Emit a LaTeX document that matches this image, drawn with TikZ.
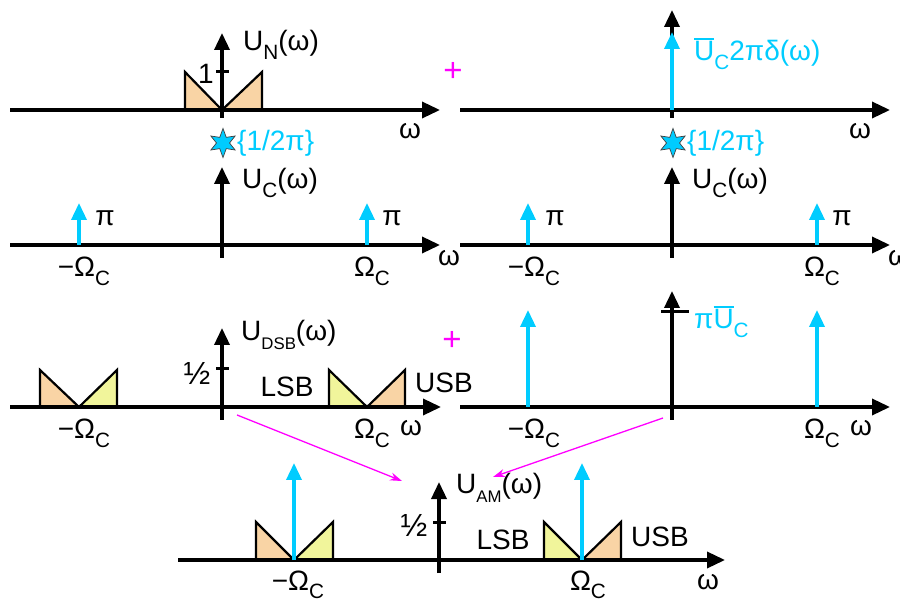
\documentclass[tikz,border=0pt]{standalone}
\usepackage{fontspec}
\usepackage{graphicx}
\setmainfont{Liberation Sans}
\usetikzlibrary{arrows.meta,shapes.geometric}
\definecolor{cyanc}{RGB}{0,204,255}
\definecolor{magc}{RGB}{255,0,255}
\definecolor{orfill}{RGB}{249,212,165}
\definecolor{yefill}{RGB}{241,245,155}
\newcommand\lsub[1]{\raisebox{-0.3em}{\scalebox{0.74}{#1}}}
\newcommand\ssub[1]{\raisebox{-0.3em}{\scalebox{0.6}{#1}}}
\newcommand\ubar{\vbox{\hrule height 2pt\kern 2pt\hbox{U}}}
\begin{document}
\begin{tikzpicture}[x=1pt,y=-1pt,
  axis/.style={line width=3.5pt,-{Triangle[length=18pt,width=16pt]}},
  vaxis/.style={line width=3.5pt,-{Triangle[length=17pt,width=15pt]}},
  imp/.style={cyanc,line width=3.5pt,-{Triangle[length=17pt,width=15pt]}},
  tickl/.style={line width=3pt},
  tri/.style={draw=black,line width=2.2pt,line join=miter},
  lbl/.style={font=\fontsize{28}{30}\selectfont,inner sep=0pt},
  clbl/.style={lbl,text=cyanc},
  half/.style={font=\fontsize{32}{34}\selectfont,inner sep=0pt},
  plus/.style={font=\fontsize{33}{35}\selectfont,text=magc,inner sep=0pt},
  starp/.style={draw=black!75,line width=0.7pt,fill=cyanc,line join=miter},
  mag/.style={magc,line width=1.3pt,-{Stealth[length=12pt,width=8pt]}}
]
\useasboundingbox (0,0) rectangle (900,601);

% ---------------- Panel 1: U_N
\coordinate (p1l) at (10,110); \coordinate (p1r) at (440,110);
\coordinate (p1b) at (222,118); \coordinate (p1t) at (222,33);
\coordinate (p1o) at (222,110);
\draw[tri,fill=orfill] (185,72) -- (185,110) -- (p1o) -- cycle;
\draw[tri,fill=orfill] (p1o) -- (262,72) -- (262,110) -- cycle;
\draw[axis] (p1l) -- (p1r);
\draw[vaxis] (p1b) -- (p1t);
\coordinate (p1k1) at (216,72); \coordinate (p1k2) at (229,72);
\draw[tickl] (p1k1) -- (p1k2);
\node[lbl] (one) at (206,74) {1};
\node[lbl,anchor=west] (un) at (243,45) {U\lsub{N}(ω)};
\node[lbl] (w1) at (410,131) {ω};

% ---------------- Panel 2: carrier DC
\coordinate (p2l) at (460,110); \coordinate (p2r) at (890,110);
\coordinate (p2b) at (672,118); \coordinate (p2t) at (672,10);
\coordinate (p2o) at (672,110); \coordinate (p2i) at (672,32);
\draw[axis] (p2l) -- (p2r);
\draw[vaxis] (p2b) -- (p2t);
\draw[imp] (p2o) -- (p2i);
\node[clbl,anchor=base west] (uc2) at (694,61) {\ubar\lsub{C}2πδ(ω)};
\node[lbl] (w2) at (860,131) {ω};
\node[plus] (plus1) at (453,72) {+};

% ---------------- stars
\coordinate (s1) at (223,143);
\coordinate (s2) at (673,143);
\foreach \c in {s1,s2}{
  \draw[starp] (\c) +(90:14.5) -- +(120:6.5) -- +(150:14) -- +(180:6.5) -- +(210:14)
    -- +(240:6.5) -- +(270:14.5) -- +(300:6.5) -- +(330:14) -- +(0:6.5) -- +(30:14) -- +(60:6.5) -- cycle;
}
\node[clbl,anchor=west] (s1l) at (237,143) {\{1/2π\}};
\node[clbl,anchor=west] (s2l) at (687,143) {\{1/2π\}};

% ---------------- Panel 3: U_C
\coordinate (p3l) at (10,245); \coordinate (p3r) at (440,245);
\coordinate (p3b) at (222,258); \coordinate (p3t) at (222,167);
\coordinate (p3a) at (79,245); \coordinate (p3at) at (79,203);
\coordinate (p3c) at (367,245); \coordinate (p3ct) at (367,203);
\draw[axis] (p3l) -- (p3r);
\draw[vaxis] (p3b) -- (p3t);
\draw[imp] (p3a) -- (p3at);
\draw[imp] (p3c) -- (p3ct);
\node[lbl,anchor=west] (uc3) at (242,183) {U\lsub{C}(ω)};
\node[lbl] (pi3a) at (105,218) {π};
\node[lbl] (pi3b) at (392,218) {π};
\node[lbl,anchor=base] (om3a) at (84,277) {−Ω\lsub{C}};
\node[lbl,anchor=base] (om3b) at (372,277) {Ω\lsub{C}};
\node[lbl] (w3) at (449,258) {ω};

% ---------------- Panel 4: U_C (right)
\coordinate (p4l) at (460,245); \coordinate (p4r) at (890,245);
\coordinate (p4b) at (672,258); \coordinate (p4t) at (672,167);
\coordinate (p4a) at (528,245); \coordinate (p4at) at (528,203);
\coordinate (p4c) at (817,245); \coordinate (p4ct) at (817,203);
\draw[axis] (p4l) -- (p4r);
\draw[vaxis] (p4b) -- (p4t);
\draw[imp] (p4a) -- (p4at);
\draw[imp] (p4c) -- (p4ct);
\node[lbl,anchor=west] (uc4) at (692,183) {U\lsub{C}(ω)};
\node[lbl] (pi4a) at (555,218) {π};
\node[lbl] (pi4b) at (842,218) {π};
\node[lbl,anchor=base] (om4a) at (534,277) {−Ω\lsub{C}};
\node[lbl,anchor=base] (om4b) at (822,277) {Ω\lsub{C}};
\node[lbl] (w4) at (899,258) {ω};

% ---------------- Panel 5: U_DSB
\coordinate (p5l) at (10,407); \coordinate (p5r) at (441,407);
\coordinate (p5b) at (222,420); \coordinate (p5t) at (222,328);
\coordinate (p5n) at (79,407); \coordinate (p5p) at (367,407);
\draw[tri,fill=orfill] (40,370) -- (40,407) -- (p5n) -- cycle;
\draw[tri,fill=yefill] (p5n) -- (117,370) -- (117,407) -- cycle;
\draw[tri,fill=yefill] (329,370) -- (329,407) -- (p5p) -- cycle;
\draw[tri,fill=orfill] (p5p) -- (405,370) -- (405,407) -- cycle;
\draw[axis] (p5l) -- (p5r);
\draw[vaxis] (p5b) -- (p5t);
\coordinate (p5k1) at (216,369); \coordinate (p5k2) at (229,369);
\draw[tickl] (p5k1) -- (p5k2);
\node[half] (h5) at (197,373) {½};
\node[lbl,anchor=west] (udsb) at (241,335) {U\ssub{DSB}(ω)};
\node[lbl] (lsb5) at (287,387) {LSB};
\node[lbl] (usb5) at (444,383) {USB};
\node[lbl,anchor=base] (om5a) at (84,439) {−Ω\lsub{C}};
\node[lbl,anchor=base] (om5b) at (372,439) {Ω\lsub{C}};
\node[lbl] (w5) at (411,428) {ω};
\node[plus] (plus2) at (452,341) {+};

% ---------------- Panel 6: carrier with pi U_C
\coordinate (p6l) at (460,407); \coordinate (p6r) at (890,407);
\coordinate (p6b) at (672,420); \coordinate (p6t) at (672,291);
\coordinate (p6a) at (528,407); \coordinate (p6at) at (528,310);
\coordinate (p6c) at (817,407); \coordinate (p6ct) at (817,310);
\draw[axis] (p6l) -- (p6r);
\draw[vaxis] (p6b) -- (p6t);
\draw[imp] (p6a) -- (p6at);
\draw[imp] (p6c) -- (p6ct);
\coordinate (p6k1) at (661,312); \coordinate (p6k2) at (689,312);
\draw[tickl] (p6k1) -- (p6k2);
\node[clbl,anchor=base west] (piuc) at (694,329) {π\ubar\lsub{C}};
\node[lbl,anchor=base] (om6a) at (534,439) {−Ω\lsub{C}};
\node[lbl,anchor=base] (om6b) at (822,439) {Ω\lsub{C}};
\node[lbl] (w6) at (861,428) {ω};

% ---------------- Panel 7: U_AM
\coordinate (p7l) at (178,560); \coordinate (p7r) at (725,560);
\coordinate (p7b) at (439,573); \coordinate (p7t) at (439,482);
\coordinate (p7n) at (294,560); \coordinate (p7nt) at (294,463);
\coordinate (p7p) at (582,560); \coordinate (p7pt) at (582,463);
\draw[tri,fill=orfill] (256,522) -- (256,560) -- (p7n) -- cycle;
\draw[tri,fill=yefill] (p7n) -- (333,522) -- (333,560) -- cycle;
\draw[tri,fill=yefill] (544,522) -- (544,560) -- (p7p) -- cycle;
\draw[tri,fill=orfill] (p7p) -- (621,522) -- (621,560) -- cycle;
\draw[axis] (p7l) -- (p7r);
\draw[vaxis] (p7b) -- (p7t);
\draw[imp] (p7n) -- (p7nt);
\draw[imp] (p7p) -- (p7pt);
\coordinate (p7k1) at (433,522); \coordinate (p7k2) at (446,522);
\draw[tickl] (p7k1) -- (p7k2);
\node[half] (h7) at (414,525) {½};
\node[lbl,anchor=west] (uam) at (456,488) {U\ssub{AM}(ω)};
\node[lbl] (lsb7) at (503,540) {LSB};
\node[lbl] (usb7) at (660,537) {USB};
\node[lbl,anchor=base] (om7a) at (298,590) {−Ω\lsub{C}};
\node[lbl,anchor=base] (om7b) at (588,590) {Ω\lsub{C}};
\node[lbl] (w7) at (708,582) {ω};

% ---------------- magenta connectors
\coordinate (m1s) at (237,415); \coordinate (m1e) at (402,481);
\coordinate (m2s) at (663,418); \coordinate (m2e) at (493,477);
\draw[mag] (m1s) -- (m1e);
\draw[mag] (m2s) -- (m2e);
\end{tikzpicture}
\end{document}
